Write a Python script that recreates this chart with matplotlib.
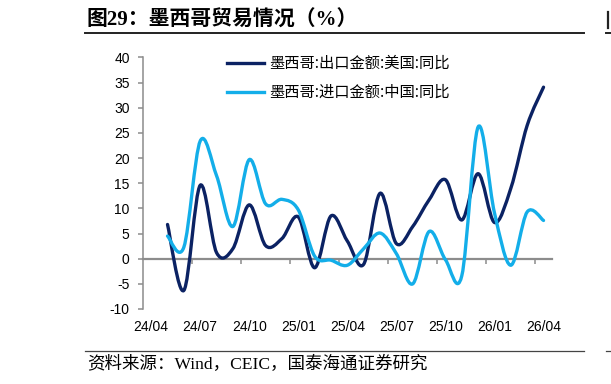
import numpy as np
import matplotlib
matplotlib.use("Agg")
import matplotlib.pyplot as plt
from matplotlib.path import Path
from matplotlib.patches import PathPatch
from matplotlib.lines import Line2D

# ---------------- data ----------------
months = ['24/04', '24/05', '24/06', '24/07', '24/08', '24/09', '24/10', '24/11',
          '24/12', '25/01', '25/02', '25/03', '25/04', '25/05', '25/06', '25/07',
          '25/08', '25/09', '25/10', '25/11', '25/12', '26/01', '26/02', '26/03',
          '26/04']
tick_labels = ['24/04', '24/07', '24/10', '25/01', '25/04', '25/07', '25/10',
               '26/01', '26/04']
nan = np.nan
export_us = [nan, 6.8, -6.3, 14.6, 1.2, 2.0, 10.7, 2.6, 4.0, 8.3, -1.8, 8.5,
             3.5, -1.1, 13.0, 3.0, 6.4, 11.7, 15.7, 7.7, 16.9, 7.2, 14.0, 26.5,
             34.1]
import_cn = [nan, 4.5, 2.3, 23.4, 16.5, 6.4, 19.7, 10.9, 11.8, 9.7, 0.5, -0.3,
             -1.3, 2.0, 5.1, 1.0, -5.0, 5.4, -0.2, -3.4, 26.2, 9.1, -1.3, 9.3,
             7.6]
series_names = ['墨西哥:出口金额:美国:同比', '墨西哥:进口金额:中国:同比']
series_colors = ['#0b2263', '#13aee9']
title_text = '图29：墨西哥贸易情况（%）'
source_text = '资料来源：Wind，CEIC，国泰海通证券研究'

CJK = ['Noto Sans CJK SC', 'DejaVu Sans']
SERIF_CJK = ['Liberation Serif', 'Noto Sans CJK SC']


def smooth_path(xs, ys):
    pts = np.array([(x, y) for x, y in zip(xs, ys) if not np.isnan(y)], float)
    n = len(pts)
    verts = [pts[0]]
    codes = [Path.MOVETO]
    for k in range(n - 1):
        p0 = pts[k - 1] if k > 0 else pts[k]
        p1 = pts[k]
        p2 = pts[k + 1]
        p3 = pts[k + 2] if k + 2 < n else pts[k + 1]
        c1 = p1 + (p2 - p0) / 6.0
        c2 = p2 - (p3 - p1) / 6.0
        verts += [c1, c2, p2]
        codes += [Path.CURVE4] * 3
    return Path(np.array(verts), codes)


fig = plt.figure(figsize=(6.11, 3.84), dpi=100)
ax = fig.add_axes([143 / 611, 1 - 309 / 384, (551.7 - 143) / 611, (309 - 57.5) / 384])

x = np.arange(len(months))
for vals, col in zip([export_us, import_cn], series_colors):
    p = PathPatch(smooth_path(x, vals), facecolor='none', edgecolor=col,
                  lw=2.4, capstyle='round', joinstyle='round', zorder=3)
    ax.add_patch(p)

ax.set_xlim(-0.5, len(months) - 0.5)
ax.set_ylim(-10, 40)
ax.set_yticks(np.arange(-10, 41, 5))
ax.set_yticklabels([str(v) for v in range(-10, 41, 5)])

axis_col = '#8c8c8c'
for s in ['top', 'right']:
    ax.spines[s].set_visible(False)
ax.spines['left'].set_color(axis_col)
ax.spines['left'].set_linewidth(1.1)
ax.spines['bottom'].set_position(('data', 0))
ax.spines['bottom'].set_color(axis_col)
ax.spines['bottom'].set_linewidth(1.6)
ax.spines['bottom'].set_zorder(2)

# category boundary ticks on the zero line
bounds = [months.index(t) - 0.5 for t in tick_labels[1:]]
ax.set_xticks(bounds)
ax.set_xticklabels([])
ax.tick_params(axis='x', direction='out', length=3.8, width=1.1, color=axis_col)
ax.tick_params(axis='y', direction='out', length=3.6, width=1.1, color=axis_col,
               pad=6, labelsize=10, labelcolor='black')
for lab in ax.get_yticklabels():
    lab.set_fontfamily('Liberation Sans')

# category labels at the bottom of the plot area
sec = ax.secondary_xaxis(0.0)
sec.set_xticks([months.index(t) for t in tick_labels])
sec.set_xticklabels(tick_labels, fontfamily='Liberation Sans', fontsize=10)
sec.tick_params(length=0, pad=8)
sec.spines['bottom'].set_visible(False)

handles = [Line2D([], [], color=c, lw=2.4) for c in series_colors]
leg = ax.legend(handles, series_names, loc='upper left',
                bbox_to_anchor=(0.2055, 1.01), frameon=False,
                prop={'family': CJK, 'size': 11}, handlelength=2.4,
                handletextpad=0.35, labelspacing=0.78, borderpad=0,
                borderaxespad=0)

# title and source
fig.text(87 / 611, 1 - 20.5 / 384, title_text, fontsize=15, fontweight='bold',
         family=SERIF_CJK, ha='left', va='center')
fig.add_artist(Line2D([85 / 611, 584 / 611], [1 - 33.3 / 384] * 2,
                      transform=fig.transFigure, color='#222222', lw=1.4))
fig.add_artist(Line2D([85 / 611, 584 / 611], [1 - 351 / 384] * 2,
                      transform=fig.transFigure, color='#444444', lw=0.9))
fig.text(87 / 611, 1 - 364 / 384, source_text, fontsize=12.6,
         family=SERIF_CJK, ha='left', va='center')
# neighbouring panel rules at the right edge
fig.add_artist(Line2D([606 / 611, 1.0], [1 - 33.3 / 384] * 2,
                      transform=fig.transFigure, color='#222222', lw=1.4))
fig.add_artist(Line2D([607.5 / 611, 607.5 / 611], [1 - 12 / 384, 1 - 28 / 384],
                      transform=fig.transFigure, color='#222222', lw=1.6))
fig.add_artist(Line2D([606 / 611, 1.0], [1 - 351 / 384] * 2,
                      transform=fig.transFigure, color='#444444', lw=0.9))

fig.savefig('out.png', dpi=100)
